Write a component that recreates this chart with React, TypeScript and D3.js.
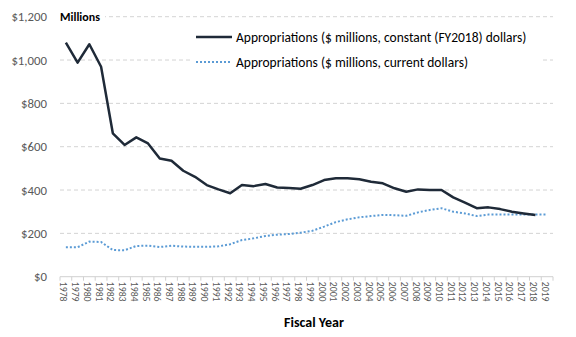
import React from "react";
import * as d3 from "d3";

const years: string[] = d3.range(1978, 2020).map(String);

const constantDollars: (number | null)[] = [
  1080, 988, 1073, 969, 662, 608, 643, 615, 546, 535, 489, 461, 423, 403, 385,
  423, 418, 428, 412, 409, 406, 423, 446, 454, 454, 450, 438, 431, 408, 392,
  403, 400, 400, 366, 342, 316, 320, 312, 300, 292, 285, null,
];

const currentDollars: number[] = [
  136, 136, 162, 160, 123, 122, 142, 143, 137, 143, 139, 138, 138, 140, 150,
  169, 177, 188, 194, 197, 203, 212, 231, 252, 265, 274, 280, 285, 284, 281,
  297, 308, 316, 300, 292, 280, 287, 287, 287, 287, 287, 287,
];

const yTicks: number[] = [0, 200, 400, 600, 800, 1000, 1200];

const legendLabels: string[] = [
  "Appropriations ($ millions, constant (FY2018) dollars)",
  "Appropriations ($ millions, current dollars)",
];

const W = 576;
const H = 337;
const FONT = "Carlito, Lato, 'Open Sans', sans-serif";

export default function App() {
  const left = 60;
  const right = 553;
  const top = 16.7;
  const bottom = 276.7;

  const x = d3.scaleBand<string>().domain(years).range([left, right]).paddingInner(0).paddingOuter(0);
  const y = d3.scaleLinear().domain([0, 1200]).range([bottom, top]);
  const cx = (d: string) => (x(d) as number) + x.bandwidth() / 2;

  const lineGen = d3
    .line<number | null>()
    .defined((d) => d !== null)
    .x((_, i) => cx(years[i]))
    .y((d) => y(d as number));

  const fmt = (v: number) => "$" + d3.format(",")(v);

  return (
    <svg width={W} height={H} style={{ position: "absolute", left: 0, top: 0 }} fontFamily={FONT}>
      <rect width={W} height={H} fill="#fff" />
      {yTicks.map((t) =>
        t === 0 ? null : (
          <line key={t} x1={left} x2={right} y1={y(t)} y2={y(t)} stroke="#c8c8c8" strokeWidth={0.8} strokeDasharray="4,3" />
        )
      )}
      {yTicks.map((t) => (
        <text key={"l" + t} x={47} y={y(t)} dy="0.35em" textAnchor="end" fontSize={12.8} fill="#595959">
          {fmt(t)}
        </text>
      ))}
      {/* x axis */}
      <line x1={left} x2={right} y1={bottom} y2={bottom} stroke="#d0d0d0" strokeWidth={1} />
      {years.map((yr) => (
        <line key={"t" + yr} x1={x(yr) as number} x2={x(yr) as number} y1={bottom} y2={bottom + 4} stroke="#d0d0d0" strokeWidth={1} />
      ))}
      <line x1={right} x2={right} y1={bottom} y2={bottom + 4} stroke="#d0d0d0" strokeWidth={1} />
      {years.map((yr) => (
        <text
          key={"x" + yr}
          transform={`translate(${cx(yr) - 5.5},${bottom + 5}) rotate(90)`}
          fontSize={9.8}
          fill="#595959"
          textAnchor="start"
        >
          {yr}
        </text>
      ))}
      <text x={314} y={327} textAnchor="middle" fontSize={14} fontWeight="bold" fill="#000">
        Fiscal Year
      </text>
      {/* Millions label with white background */}
      <rect x={57} y={8} width={48} height={16} fill="#fff" />
      <text x={60} y={16.7} dy="0.35em" fontSize={12} fontWeight="bold" fill="#000">
        Millions
      </text>
      {/* Legend background */}
      <rect x={190} y={26} width={350} height={48} fill="#fff" />
      <line x1={196} x2={232} y1={37} y2={37} stroke="#1f2a38" strokeWidth={2.5} />
      <text x={236} y={37} dy="0.35em" fontSize={13.5} fill="#000">
        {legendLabels[0]}
      </text>
      <line x1={196} x2={232} y1={62} y2={62} stroke="#5b9bd5" strokeWidth={2} strokeDasharray="2,2" />
      <text x={236} y={62} dy="0.35em" fontSize={13.5} fill="#000">
        {legendLabels[1]}
      </text>
      {/* series */}
      <path d={lineGen(currentDollars) || ""} fill="none" stroke="#5b9bd5" strokeWidth={2} strokeDasharray="2,2" />
      <path d={lineGen(constantDollars) || ""} fill="none" stroke="#1f2a38" strokeWidth={2.5} strokeLinejoin="round" />
    </svg>
  );
}
